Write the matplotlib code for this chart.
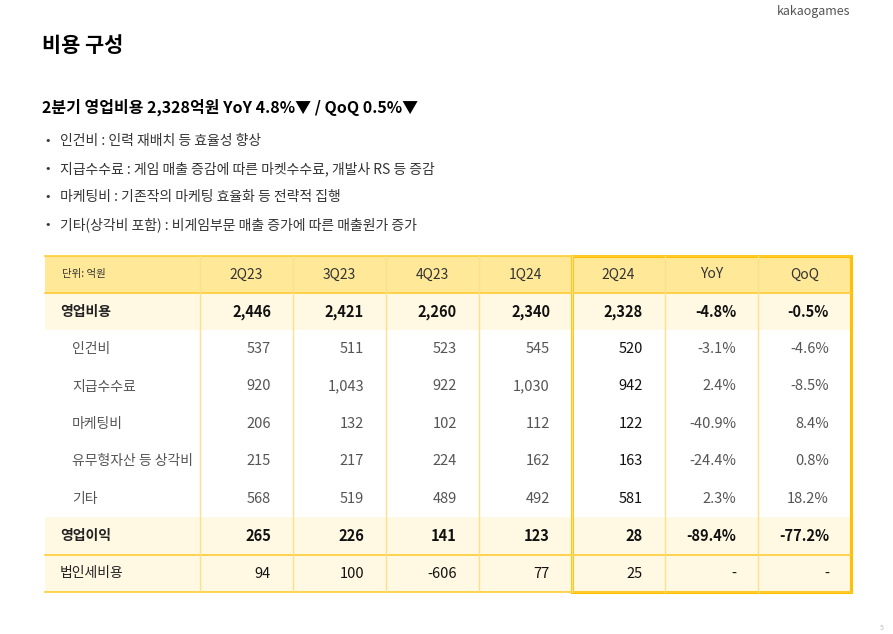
import matplotlib
matplotlib.use("Agg")
import matplotlib.pyplot as plt
from matplotlib import font_manager
from matplotlib.patches import Rectangle

# CJK 글꼴 찾기
names = {f.name for f in font_manager.fontManager.ttflist}
cjk = [n for n in ["Noto Sans CJK KR", "Noto Sans CJK JP", "Noto Sans CJK SC", "Noto Sans CJK TC"] if n in names]
plt.rcParams["font.family"] = cjk + ["DejaVu Sans"]

# 데이터
columns = ["2Q23", "3Q23", "4Q23", "1Q24", "2Q24", "YoY", "QoQ"]
row_labels = ["영업비용", "인건비", "지급수수료", "마케팅비", "유무형자산 등 상각비", "기타", "영업이익", "법인세비용"]
row_values = [
    ["2,446", "2,421", "2,260", "2,340", "2,328", "-4.8%", "-0.5%"],
    ["537", "511", "523", "545", "520", "-3.1%", "-4.6%"],
    ["920", "1,043", "922", "1,030", "942", "2.4%", "-8.5%"],
    ["206", "132", "102", "112", "122", "-40.9%", "8.4%"],
    ["215", "217", "224", "162", "163", "-24.4%", "0.8%"],
    ["568", "519", "489", "492", "581", "2.3%", "18.2%"],
    ["265", "226", "141", "123", "28", "-89.4%", "-77.2%"],
    ["94", "100", "-606", "77", "25", "-", "-"],
]
bold_rows = [0, 6]
shaded_rows = [0, 6, 7]
bullets = [
    "인건비 : 인력 재배치 등 효율성 향상",
    "지급수수료 : 게임 매출 증감에 따른 마켓수수료, 개발사 RS 등 증감",
    "마케팅비 : 기존작의 마케팅 효율화 등 전략적 집행",
    "기타(상각비 포함) : 비게임부문 매출 증가에 따른 매출원가 증가",
]

fig = plt.figure(figsize=(8.93, 6.34), dpi=100)
ax = fig.add_axes([0, 0, 1, 1])
ax.set_xlim(0, 893)
ax.set_ylim(634, 0)
ax.axis("off")

ax.text(850, 12, "kakaogames", fontsize=9, color="#555555", ha="right", va="center")
ax.text(42, 45, "비용 구성", fontsize=15, fontweight="bold", ha="left", va="center")
ax.text(42, 107, "2분기 영업비용 2,328억원 YoY 4.8%▼ / QoQ 0.5%▼", fontsize=11.5,
        fontweight="bold", ha="left", va="center")
for i, b in enumerate(bullets):
    y = 141 + i * 28
    ax.text(45, y, "•", fontsize=9.5, ha="left", va="center", color="#333333")
    ax.text(60, y, b, fontsize=10, ha="left", va="center", color="#333333")

xb = [45, 200, 293, 386, 479, 572, 665, 758, 851]
hdr_top, hdr_bot = 256, 293
row_h = 37.4
line_c = "#FFCC33"

# header
ax.add_patch(Rectangle((xb[0], hdr_top), xb[-1] - xb[0], hdr_bot - hdr_top,
                       facecolor="#FFE898", edgecolor="none"))
ax.text(62, (hdr_top + hdr_bot) / 2, "단위: 억원", fontsize=7.5, ha="left", va="center", color="#333333")
for j, c in enumerate(columns):
    ax.text((xb[j + 1] + xb[j + 2]) / 2, (hdr_top + hdr_bot) / 2, c, fontsize=10,
            ha="center", va="center", color="#333333")

for i, (lab, vals) in enumerate(zip(row_labels, row_values)):
    top = hdr_bot + i * row_h
    cy = top + row_h / 2
    if i in shaded_rows:
        ax.add_patch(Rectangle((xb[0], top), xb[-1] - xb[0], row_h,
                               facecolor="#FFF8E3", edgecolor="none"))
    bold = i in bold_rows
    color = "#222222" if i in shaded_rows else "#555555"
    lx = 60 if i in shaded_rows else 72
    ax.text(lx, cy, lab, fontsize=10, ha="left", va="center", color=color,
            fontweight="bold" if bold else "normal")
    for j, v in enumerate(vals):
        ax.text(xb[j + 2] - 22, cy, v, fontsize=10.5,
                ha="right", va="center", color="#111111" if (bold or j == 4 or i == 7) else color,
                fontweight="bold" if bold else "normal")

bottom = hdr_bot + len(row_labels) * row_h
# horizontal lines
for y in [hdr_top, hdr_bot, hdr_bot + 7 * row_h, bottom]:
    ax.plot([xb[0], xb[-1]], [y, y], color=line_c, lw=1.2)
# vertical lines
for x in xb[1:-1]:
    ax.plot([x, x], [hdr_top, bottom], color="#FFE08A", lw=1)

# highlight box
ax.add_patch(Rectangle((xb[5], hdr_top), xb[-1] - xb[5], bottom - hdr_top,
                       facecolor="none", edgecolor="#FFC000", lw=2.2))

ax.text(884, 628, "5", fontsize=5, color="#BBBBBB", ha="right", va="center")

fig.savefig("out.png", dpi=100)
